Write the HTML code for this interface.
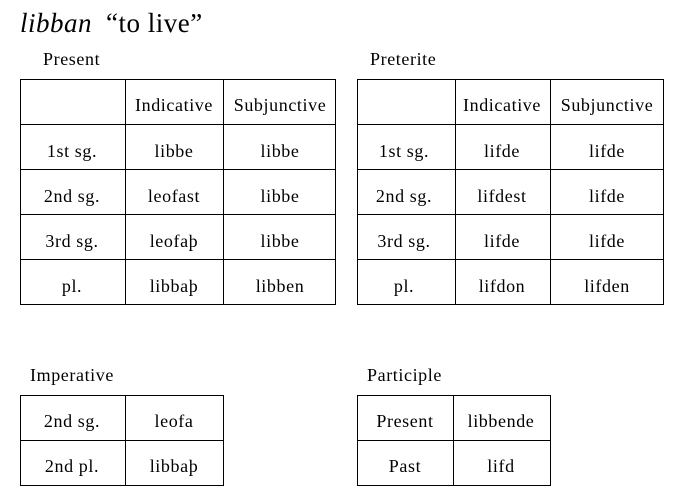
<!DOCTYPE html>
<html><head><meta charset="utf-8"><style>
html,body{margin:0;padding:0;background:#fff;}
svg{display:block;}
text{font-family:"Liberation Serif","DejaVu Serif",serif;font-size:18px;letter-spacing:0.6px;fill:#000;}
</style></head><body>
<svg width="681" height="504" xmlns="http://www.w3.org/2000/svg">
<text x="20" y="32" style="font-size:27px;font-style:italic;letter-spacing:0.5px">libban</text>
<text x="106" y="32" style="font-size:27px;letter-spacing:0.5px">“to live”</text>
<text x="43" y="65">Present</text>
<text x="370" y="65">Preterite</text>
<text x="30" y="381">Imperative</text>
<text x="367" y="381">Participle</text>
<g stroke="#000" stroke-width="1" fill="none" shape-rendering="crispEdges">
<rect x="20.5" y="79.5" width="315" height="225"/>
<line x1="125.5" y1="79.5" x2="125.5" y2="304.5"/>
<line x1="223.5" y1="79.5" x2="223.5" y2="304.5"/>
<line x1="20.5" y1="124.5" x2="335.5" y2="124.5"/>
<line x1="20.5" y1="169.5" x2="335.5" y2="169.5"/>
<line x1="20.5" y1="214.5" x2="335.5" y2="214.5"/>
<line x1="20.5" y1="259.5" x2="335.5" y2="259.5"/>
<rect x="357.5" y="79.5" width="306" height="225"/>
<line x1="455.5" y1="79.5" x2="455.5" y2="304.5"/>
<line x1="550.5" y1="79.5" x2="550.5" y2="304.5"/>
<line x1="357.5" y1="124.5" x2="663.5" y2="124.5"/>
<line x1="357.5" y1="169.5" x2="663.5" y2="169.5"/>
<line x1="357.5" y1="214.5" x2="663.5" y2="214.5"/>
<line x1="357.5" y1="259.5" x2="663.5" y2="259.5"/>
<rect x="20.5" y="395.5" width="203" height="90"/>
<line x1="125.5" y1="395.5" x2="125.5" y2="485.5"/>
<line x1="20.5" y1="440.5" x2="223.5" y2="440.5"/>
<rect x="357.5" y="395.5" width="193" height="90"/>
<line x1="453.5" y1="395.5" x2="453.5" y2="485.5"/>
<line x1="357.5" y1="440.5" x2="550.5" y2="440.5"/>
</g>
<g text-anchor="middle">
<text x="174" y="111">Indicative</text><text x="280" y="111">Subjunctive</text>
<text x="72" y="157">1st sg.</text><text x="174" y="157">libbe</text><text x="280" y="157">libbe</text>
<text x="72" y="202">2nd sg.</text><text x="174" y="202">leofast</text><text x="280" y="202">libbe</text>
<text x="72" y="247">3rd sg.</text><text x="174" y="247">leofaþ</text><text x="280" y="247">libbe</text>
<text x="72" y="292">pl.</text><text x="174" y="292">libbaþ</text><text x="280" y="292">libben</text>
<text x="502" y="111">Indicative</text><text x="607" y="111">Subjunctive</text>
<text x="404" y="157">1st sg.</text><text x="502" y="157">lifde</text><text x="607" y="157">lifde</text>
<text x="404" y="202">2nd sg.</text><text x="502" y="202">lifdest</text><text x="607" y="202">lifde</text>
<text x="404" y="247">3rd sg.</text><text x="502" y="247">lifde</text><text x="607" y="247">lifde</text>
<text x="404" y="292">pl.</text><text x="502" y="292">lifdon</text><text x="607" y="292">lifden</text>
<text x="72" y="427">2nd sg.</text><text x="174" y="427">leofa</text>
<text x="72" y="472">2nd pl.</text><text x="174" y="472">libbaþ</text>
<text x="405" y="427">Present</text><text x="501" y="427">libbende</text>
<text x="405" y="472">Past</text><text x="501" y="472">lifd</text>
</g>
</svg>
</body></html>
